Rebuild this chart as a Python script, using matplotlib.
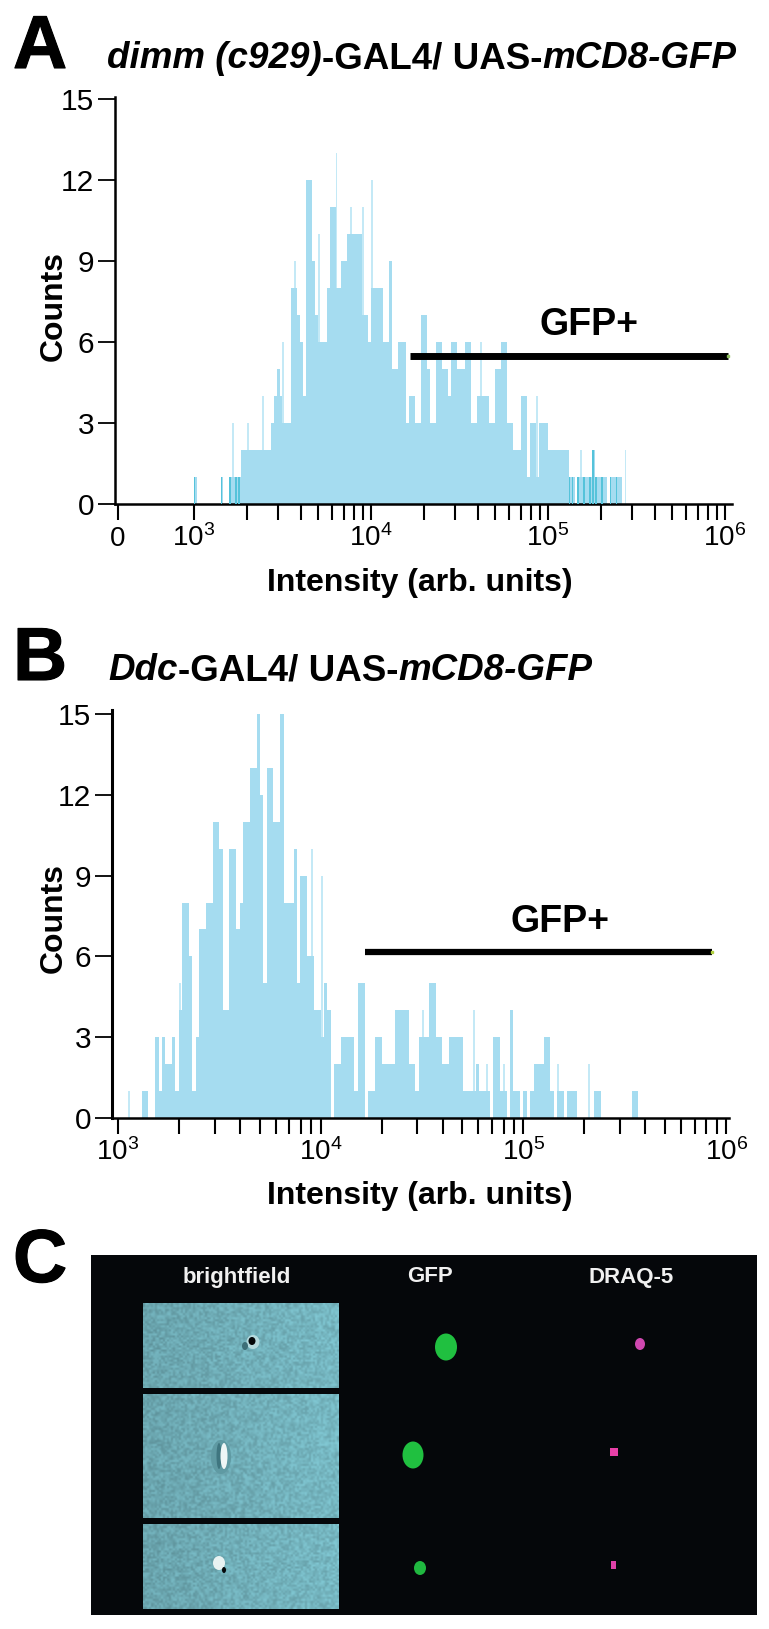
import numpy as np
import matplotlib
matplotlib.use('Agg')
import matplotlib.pyplot as plt
import matplotlib.patheffects as pe
from matplotlib.patches import Rectangle, Ellipse
from matplotlib.ticker import FixedLocator, FixedFormatter, NullFormatter

plt.rcParams['font.family'] = ['Liberation Sans', 'DejaVu Sans']
plt.rcParams['mathtext.default'] = 'regular'

# histogram channels, 60 per decade, starting at 10^3
channels_per_decade = 60

a_counts = [1, 0, 0, 0, 0, 0, 0, 0, 0, 1, 0, 0, 1, 1, 1, 1, 2, 2, 2, 2, 2, 2, 2, 2, 2, 2,
            3, 4, 5, 4, 3, 3, 3, 8, 8, 7, 6, 4, 12, 12, 9, 7, 6, 6, 6, 8, 11, 11, 8, 8,
            9, 9, 10, 10, 10, 10, 10, 7, 7, 6, 8, 8, 8, 8, 6, 6, 9, 5, 5, 6, 6, 6, 3, 4, 4, 3,
            3, 7, 7, 5, 3, 3, 6, 6, 5, 5, 4, 6, 6, 5, 5, 5, 6, 6, 3, 3, 4, 4, 4, 4,
            3, 3, 5, 5, 6, 6, 3, 3, 2, 2, 2, 4, 4, 1, 3, 3, 1, 3, 3, 3, 2, 2, 2, 2, 2, 2, 2,
            1, 1, 0, 1, 1, 1, 1, 1, 2, 1, 1, 1, 1, 0, 1, 1, 1, 1, 0, 0]
a_spike_bins = [13, 18, 23, 30, 34, 42, 48, 53, 57, 60, 97, 116, 131, 146]
a_spike_counts = [3, 3, 4, 6, 9, 10, 13, 11, 11, 12, 6, 4, 2, 2]
a_dark_bins = [0, 9, 12, 14, 15, 127, 128, 130, 132, 134, 135, 136, 138, 141, 143]

b_counts = [0, 0, 0, 0, 0, 0, 0, 1, 1, 0, 0, 3, 1, 3, 2, 2, 3, 1, 4, 8, 8, 6, 1, 3, 7, 7,
            8, 8, 11, 11, 10, 4, 4, 10, 10, 7, 8, 11, 11, 13, 13, 15, 12, 5, 13, 13, 11, 11, 15,
            8, 8, 8, 10, 5, 9, 9, 6, 6, 4, 4, 3, 5, 4, 0, 2, 2, 3, 3, 3, 3, 1, 5, 5, 0, 1, 1,
            3, 3, 2, 2, 2, 2, 4, 4, 4, 4, 2, 2, 1, 3, 3, 3, 5, 5, 3, 3, 2, 2, 3, 3, 3, 3,
            1, 1, 1, 1, 2, 1, 1, 1, 0, 3, 3, 1, 1, 0, 4, 1, 1, 0, 1, 0, 1, 2, 2, 2, 3, 3, 1, 0,
            1, 1, 0, 1, 1, 1, 0, 0, 0, 0, 0, 1, 1, 0, 0, 0, 0, 0, 0, 0, 0, 0, 1, 1]
b_spike_bins = [3, 18, 57, 60, 90, 105, 109, 114, 130, 139]
b_spike_counts = [1, 5, 10, 9, 4, 4, 2, 2, 2, 2]

y_ticks = [0, 3, 6, 9, 12, 15]
a_x_ticks = [372, 1e3, 1e4, 1e5, 1e6]
a_x_labels = ['0', '$10^3$', '$10^4$', '$10^5$', '$10^6$']
b_x_ticks = [1e3, 1e4, 1e5, 1e6]
b_x_labels = ['$10^3$', '$10^4$', '$10^5$', '$10^6$']

a_gate = [1.66e4, 1.04e6]
a_gate_level = 5.5
b_gate = [1.65e4, 8.5e5]
b_gate_level = 6.17

main_col = '#a5dcf0'
spike_col = '#c4e9f6'
dark_col = '#55c3da'

W, H = 769, 1629
fig = plt.figure(figsize=(W / 100, H / 100), dpi=100)


def make_axes(left, right, top, bottom):
    return fig.add_axes([left / W, 1 - bottom / H, (right - left) / W, (bottom - top) / H])


def draw_hist(ax, counts, spike_bins, spike_counts, dark_bins=()):
    counts = np.array(counts)
    edges = 1000 * 10 ** (np.arange(len(counts) + 1) / channels_per_decade)
    lefts = edges[:-1]
    widths = np.diff(edges)
    ax.bar(lefts[spike_bins], spike_counts, width=widths[spike_bins] * 0.6, align='edge',
           color=spike_col, linewidth=0, zorder=1)
    ax.bar(lefts, counts, width=widths, align='edge', color=main_col, linewidth=0, zorder=2)
    if len(dark_bins) > 0:
        dark_bins = list(dark_bins)
        ax.bar(lefts[dark_bins], counts[dark_bins], width=widths[dark_bins] * 0.5, align='edge',
               color=dark_col, linewidth=0, zorder=3)


def style_axes(ax, x_ticks, x_labels, ylw):
    ax.set_xscale('log')
    for s in ['top', 'right']:
        ax.spines[s].set_visible(False)
    ax.spines['left'].set_linewidth(ylw)
    ax.spines['bottom'].set_linewidth(1.8)
    ax.xaxis.set_major_locator(FixedLocator(x_ticks))
    ax.xaxis.set_major_formatter(FixedFormatter(x_labels))
    minor = [m * 10 ** d for d in [3, 4, 5] for m in range(2, 10)]
    ax.xaxis.set_minor_locator(FixedLocator(minor))
    ax.xaxis.set_minor_formatter(NullFormatter())
    ax.set_yticks(y_ticks)
    ax.tick_params(axis='x', which='both', length=11.5, width=1.5, labelsize=20, pad=18.5)
    ax.tick_params(axis='y', length=12, width=1.3, labelsize=21.5, pad=3)
    ax.patch.set_alpha(0)


# panel A
ax_a = make_axes(115, 732, 97, 504)
draw_hist(ax_a, a_counts, a_spike_bins, a_spike_counts, a_dark_bins)
style_axes(ax_a, a_x_ticks, a_x_labels, 1.8)
ax_a.set_xlim(10 ** (3 - 79 / 177), 10 ** (3 + 538 / 177))
ax_a.set_ylim(0, 407 / 27)
ax_a.plot(a_gate, [a_gate_level, a_gate_level], color='black', lw=5, solid_capstyle='butt', zorder=5)
ax_a.plot(a_gate[1], a_gate_level, 's', color='#8fc060', ms=1.5, zorder=6)

# panel B
ax_b = make_axes(112, 729, 710, 1118)
draw_hist(ax_b, b_counts, b_spike_bins, b_spike_counts)
style_axes(ax_b, b_x_ticks, b_x_labels, 2.2)
ax_b.set_xlim(10 ** (3 - 6 / 202.7), 10 ** (3 + 611 / 202.7))
ax_b.set_ylim(0, 408 / 26.93)
ax_b.plot(b_gate, [b_gate_level, b_gate_level], color='black', lw=4.5, solid_capstyle='butt', zorder=5)
ax_b.plot(b_gate[1], b_gate_level, 's', color='#b0d040', ms=1.5, zorder=6)

# overlay in pixel coordinates for the lettering and panel C
ov = fig.add_axes([0, 0, 1, 1], zorder=10)
ov.patch.set_alpha(0)
ov.axis('off')

for ax, yc, yl in [(ax_a, 306, 583), (ax_b, 918, 1196)]:
    ax.set_xlabel('Intensity (arb. units)', fontsize=23, fontweight='bold')
    ax.set_ylabel('Counts', fontsize=23, fontweight='bold')
    ax.xaxis.set_label_coords(420 / W, 1 - yl / H, transform=fig.transFigure)
    ax.yaxis.set_label_coords(54 / W, 1 - yc / H, transform=fig.transFigure)
    ax.xaxis.label.set_va('center')
    ax.yaxis.label.set_va('center')
    for lab in ax.get_xticklabels():
        lab.set_va('baseline')

ov.set_xlim(0, W)
ov.set_ylim(H, 0)

ov.text(589, 325, 'GFP+', fontsize=27, fontweight='bold', ha='center', va='center')
ov.text(560, 922, 'GFP+', fontsize=27, fontweight='bold', ha='center', va='center')

stroke = [pe.withStroke(linewidth=0.8, foreground='black')]
ov.text(13, 68, 'A', fontsize=54, fontweight='bold', ha='left', va='baseline', path_effects=stroke)
ov.text(13, 680, 'B', fontsize=54, fontweight='bold', ha='left', va='baseline', path_effects=stroke)
ov.text(13, 1282, 'C', fontsize=54, fontweight='bold', ha='left', va='baseline', path_effects=stroke)


def title_runs(x, y, runs, size):
    renderer = fig.canvas.get_renderer()
    for txt, style in runs:
        t = ov.text(x, y, txt, fontsize=size, fontweight='bold', fontstyle=style,
                    ha='left', va='baseline')
        bb = t.get_window_extent(renderer)
        x = x + bb.width
        if txt.endswith(' '):
            x += size * 0.39


title_runs(107, 68, [('dimm (c929)', 'italic'), ('-GAL4/ UAS-', 'normal'), ('mCD8-GFP', 'italic')], 26.5)
title_runs(108, 680, [('Ddc', 'italic'), ('-GAL4/ UAS-', 'normal'), ('mCD8-GFP', 'italic')], 26.5)

# panel C
ov.add_patch(Rectangle((91, 1255), 666, 360, color='#05070a', lw=0))

# brightfield background grain, just texture and not data
for top, bot in [(1303, 1388), (1394, 1518), (1524, 1609)]:
    ny, nx = (bot - top) // 2, 98
    yy, xx = np.mgrid[0:ny, 0:nx]
    grain = np.sin(xx * 12.9898 + (yy + top) * 78.233) * 43758.5453
    grain = grain - np.floor(grain) - 0.5
    level = 0.94 + 0.12 * xx / nx + 0.22 * grain
    tex = np.clip(level[..., None] * np.array([112, 174, 184]) / 255, 0, 1)
    ov.imshow(tex, extent=(143, 339, bot, top), aspect='auto', interpolation='bilinear', zorder=2)
ov.set_xlim(0, W)
ov.set_ylim(H, 0)

spots = [(253, 1342, 13, 14, '#b5dade'), (252, 1341, 7, 8, '#05080a'), (245, 1346, 6, 8, '#3d6f78'),
         (221, 1457, 20, 34, '#5f9aa3'), (219, 1456, 5, 26, '#3f7680'), (224, 1456, 7, 26, '#eef6f6'),
         (219, 1563, 12, 14, '#e8f2f2'), (224, 1570, 4, 6, '#05080a')]
for x, y, w, h, c in spots:
    ov.add_patch(Ellipse((x, y), w, h, color=c, lw=0, zorder=3))

blobs = [(446, 1347, 22, 27, '#20c040'), (413, 1455, 21, 27, '#20c040'), (420, 1568, 12, 14, '#20b840'),
         (640, 1344, 10, 12, '#d048b0')]
for x, y, w, h, c in blobs:
    ov.add_patch(Ellipse((x, y), w, h, color=c, lw=0, zorder=3))
ov.add_patch(Rectangle((610, 1448), 8, 8, color='#e840a8', lw=0, zorder=3))
ov.add_patch(Rectangle((611, 1561), 5, 8, color='#e040a8', lw=0, zorder=3))

for x, lab in [(236.5, 'brightfield'), (430.5, 'GFP'), (631, 'DRAQ-5')]:
    ov.text(x, 1277, lab, color='#f0f0f0', fontsize=16, fontweight='bold', ha='center', va='center', zorder=4)

fig.savefig('out.png', dpi=100)
